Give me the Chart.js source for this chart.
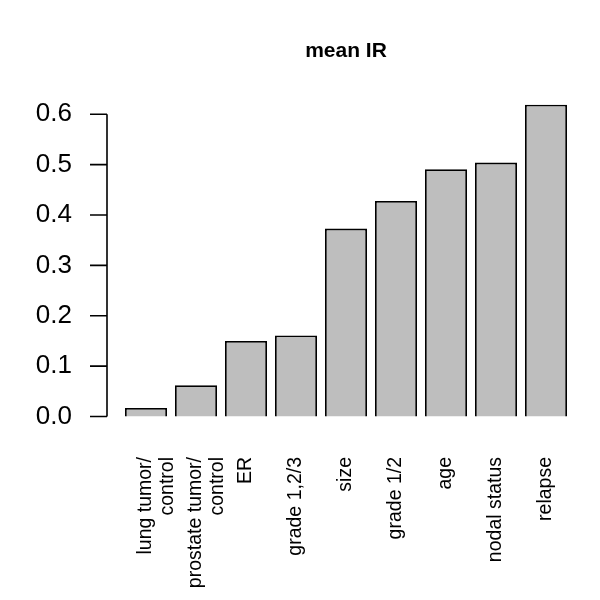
<!DOCTYPE html>
<html>
<head>
<meta charset="utf-8">
<script src="https://cdn.jsdelivr.net/npm/chart.js@4"></script>
<style>
  body { margin: 0; background: #fff; }
</style>
</head>
<body>
<canvas id="chart1" width="600" height="600"></canvas>
<script>
const ctx = document.getElementById('chart1').getContext('2d');

const categorias = [
  ['lung tumor/', 'control'],
  ['prostate tumor/', 'control'],
  'ER', 'grade 1,2/3', 'size', 'grade 1/2', 'age', 'nodal status', 'relapse'
];
const valoresIR = [0.017, 0.062, 0.150, 0.161, 0.373, 0.428, 0.491, 0.504, 0.619];
const ticksY = [0, 0.1, 0.2, 0.3, 0.4, 0.5, 0.6];

const fonte = '"Liberation Sans", Arial, Helvetica, sans-serif';

// eixo y no estilo do R: linha só entre o primeiro e o último tick, afastada da área
const eixoR = {
  id: 'eixoR',
  afterDraw(chart) {
    const c = chart.ctx;
    const y = chart.scales.y;
    const x0 = chart.chartArea.left - 14;
    c.save();
    c.strokeStyle = '#000';
    c.lineWidth = 1.6;
    c.beginPath();
    c.moveTo(x0, y.getPixelForValue(ticksY[0]));
    c.lineTo(x0, y.getPixelForValue(ticksY[ticksY.length - 1]));
    ticksY.forEach(v => {
      const py = y.getPixelForValue(v);
      c.moveTo(x0, py);
      c.lineTo(x0 - 17, py);
    });
    c.stroke();
    c.restore();
  }
};

new Chart(ctx, {
  type: 'bar',
  data: {
    labels: categorias,
    datasets: [{
      label: 'mean IR',
      data: valoresIR,
      backgroundColor: '#bebebe',
      borderColor: '#000',
      borderWidth: 1.8,
      barPercentage: 0.84,
      categoryPercentage: 1
    }]
  },
  options: {
    responsive: false,
    animation: false,
    devicePixelRatio: 1,
    layout: { padding: { left: 0, right: 29, top: 0, bottom: 0 } },
    plugins: {
      legend: { display: false },
      tooltip: { enabled: false },
      title: {
        display: true,
        text: 'mean IR',
        fullSize: false,
        color: '#000',
        font: { family: fonte, size: 21, weight: 'bold', lineHeight: 1.2 },
        padding: { top: 39, bottom: 28 }
      }
    },
    scales: {
      x: {
        grid: { display: false, drawTicks: false },
        border: { display: false },
        ticks: {
          autoSkip: false,
          maxRotation: 90,
          minRotation: 90,
          padding: 28,
          color: '#000',
          font: { family: fonte, size: 19.5, lineHeight: 1.1 }
        },
        afterFit(scale) { scale.height = 171; }
      },
      y: {
        min: -0.0248,
        max: 0.6438,
        grid: { display: false, drawTicks: false },
        border: { display: false },
        ticks: {
          padding: 49,
          color: '#000',
          font: { family: fonte, size: 26 },
          callback: v => v.toFixed(1)
        },
        afterBuildTicks(scale) { scale.ticks = ticksY.map(v => ({ value: v })); },
        afterFit(scale) { scale.width = 121; }
      }
    }
  },
  plugins: [eixoR]
});
</script>
</body>
</html>
